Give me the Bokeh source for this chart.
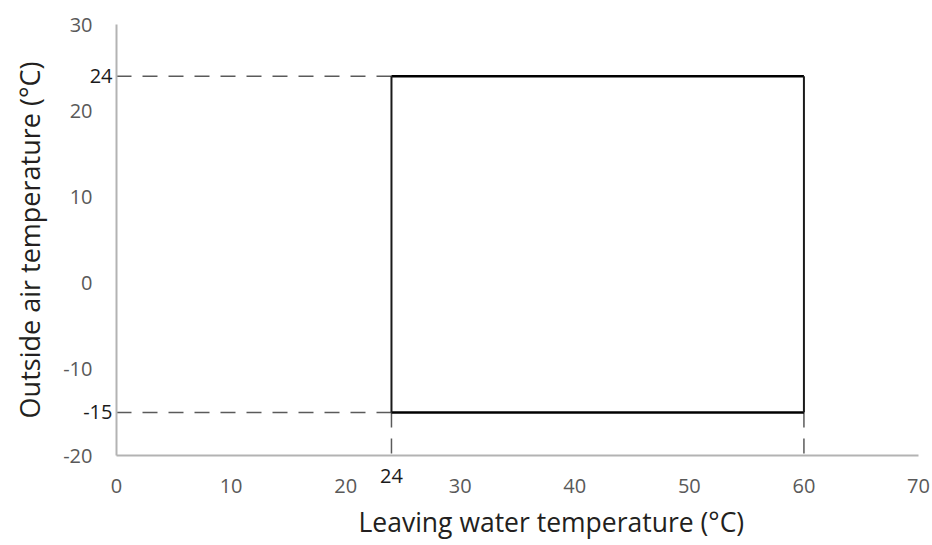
from bokeh.plotting import figure
from bokeh.models import Range1d, FixedTicker, LinearAxis, Title
from bokeh.embed import file_html
from bokeh.resources import INLINE

# ---- data ----
x_ticks = [0, 10, 20, 30, 40, 50, 60, 70]
y_ticks = [-20, -10, 0, 10, 20, 30]
lwt_min, lwt_max = 24, 60      # leaving water temperature limits (°C)
oat_min, oat_max = -15, 24     # outside air temperature limits (°C)
x_title = "Leaving water temperature (°C)"
y_title = "Outside air temperature (°C)"

FONT = "Open Sans"
TICK_COLOR = "#595959"
AXIS_COLOR = "#b3b3b3"
DASH_COLOR = "#5a5a5a"
DARK = "#1a1a1a"

p = figure(width=930, height=545,
           x_range=Range1d(x_ticks[0], x_ticks[-1]),
           y_range=Range1d(y_ticks[0], y_ticks[-1]),
           x_axis_type=None, y_axis_type=None,
           min_border_left=116, min_border_right=12,
           min_border_top=24, min_border_bottom=90,
           output_backend="svg", toolbar_location=None)
p.outline_line_color = None
p.grid.visible = False


def style(ax, color, line):
    ax.axis_line_color = AXIS_COLOR if line else None
    ax.axis_line_width = 2
    ax.major_tick_line_color = None
    ax.minor_tick_line_color = None
    ax.major_tick_out = 0
    ax.major_tick_in = 0
    ax.major_label_text_color = color
    ax.major_label_text_font = FONT
    ax.major_label_text_font_size = "20px"


# y axes: limit labels next to the frame, regular ticks outside
y_lim_axis = LinearAxis(ticker=FixedTicker(ticks=[oat_min, oat_max]),
                        major_label_overrides={v: str(v) for v in (oat_min, oat_max)})
style(y_lim_axis, DARK, True)
y_lim_axis.major_label_standoff = 4
p.add_layout(y_lim_axis, "left")

y_axis = LinearAxis(ticker=FixedTicker(ticks=y_ticks),
                    major_label_overrides={v: str(v) for v in y_ticks})
style(y_axis, TICK_COLOR, False)
y_axis.major_label_standoff = -12
y_axis.axis_label = y_title
y_axis.axis_label_text_font = FONT
y_axis.axis_label_text_font_size = "27px"
y_axis.axis_label_text_font_style = "normal"
y_axis.axis_label_text_color = "#231f20"
y_axis.axis_label_standoff = 12
p.add_layout(y_axis, "left")

# x axes
x_lim_axis = LinearAxis(ticker=FixedTicker(ticks=[lwt_min]))
style(x_lim_axis, DARK, True)
x_lim_axis.major_label_standoff = 13
p.add_layout(x_lim_axis, "below")

x_axis = LinearAxis(ticker=FixedTicker(ticks=x_ticks))
style(x_axis, TICK_COLOR, False)
x_axis.major_label_standoff = -7
p.add_layout(x_axis, "below")

p.add_layout(Title(text=x_title, align="left", offset=242, standoff=12,
                   text_font=FONT, text_font_size="26.5px",
                   text_font_style="normal", text_color="#231f20"), "below")

# dashed guide lines
p.segment(x0=[x_ticks[0], x_ticks[0]], y0=[oat_max, oat_min],
          x1=[lwt_min, lwt_min], y1=[oat_max, oat_min],
          line_color=DASH_COLOR, line_width=1.5, line_dash="15 11")
p.segment(x0=[lwt_min, lwt_max], y0=[oat_min, oat_min],
          x1=[lwt_min, lwt_max], y1=[y_ticks[0], y_ticks[0]],
          line_color=DASH_COLOR, line_width=1.5, line_dash="15 11")

# operating envelope
p.segment(x0=[lwt_min, lwt_min], y0=[oat_max, oat_min],
          x1=[lwt_max, lwt_max], y1=[oat_max, oat_min],
          line_color="black", line_width=2.5)
p.segment(x0=[lwt_min, lwt_max], y0=[oat_min, oat_min],
          x1=[lwt_min, lwt_max], y1=[oat_max, oat_max],
          line_color=DARK, line_width=2)

open("out.html", "w").write(file_html(p, INLINE))
